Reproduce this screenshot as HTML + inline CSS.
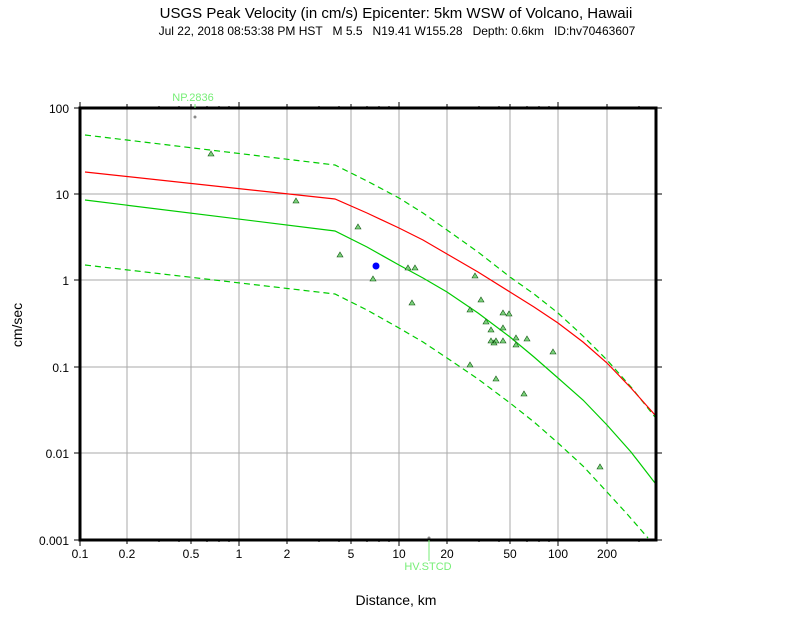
<!DOCTYPE html>
<html><head><style>body{margin:0;background:#fff}</style></head><body>
<svg width="792" height="612" xmlns="http://www.w3.org/2000/svg" font-family="Liberation Sans, sans-serif">
<rect width="792" height="612" fill="#fff"/>
<text x="396" y="18" font-size="15" text-anchor="middle">USGS Peak Velocity (in cm/s) Epicenter: 5km WSW of Volcano, Hawaii</text>
<text x="397" y="35" font-size="12" text-anchor="middle" xml:space="preserve">Jul 22, 2018 08:53:38 PM HST   M 5.5   N19.41 W155.28   Depth: 0.6km   ID:hv70463607</text>
<g stroke="#aaa" stroke-width="1">
<line x1="127" y1="108" x2="127" y2="540"/><line x1="191" y1="108" x2="191" y2="540"/><line x1="239" y1="108" x2="239" y2="540"/>
<line x1="287" y1="108" x2="287" y2="540"/><line x1="351" y1="108" x2="351" y2="540"/><line x1="399" y1="108" x2="399" y2="540"/>
<line x1="447" y1="108" x2="447" y2="540"/><line x1="510" y1="108" x2="510" y2="540"/><line x1="558" y1="108" x2="558" y2="540"/>
<line x1="607" y1="108" x2="607" y2="540"/>
<line x1="80" y1="194" x2="656" y2="194"/><line x1="80" y1="280" x2="656" y2="280"/><line x1="80" y1="367" x2="656" y2="367"/><line x1="80" y1="453" x2="656" y2="453"/>
</g>
<g fill="none" stroke-width="1.2">
<polyline stroke="#00cc00" stroke-dasharray="6,4" points="85,135 335,165 367,181 399,198 423,213 447,230 478,252 510,277 534,294 558,313 583,336 607,360 631,387 655,417"/>
<polyline stroke="#ff0000" points="85,172 335,199 367,213 399,228 423,240 447,254 478,272 510,292 534,307 558,323 583,342 607,363 631,388 655,415"/>
<polyline stroke="#00cc00" points="85,200 335,231 367,247 399,265 423,278 447,292 478,313 510,337 534,357 558,378 583,400 607,425 631,452 655,483"/>
<polyline stroke="#00cc00" stroke-dasharray="6,4" points="85,265 335,294 367,310 399,328 423,342 447,358 478,379 510,403 534,422 558,443 583,466 607,492 628,515 648,538"/>
</g>
<circle cx="376" cy="266" r="3.5" fill="#0000ff"/>
<circle cx="195" cy="117" r="1.5" fill="#888"/><circle cx="429" cy="538" r="1.5" fill="#888"/>
<g fill="#7bd17b" stroke="#115511" stroke-width="0.6">
<path d="M211 151l3 5h-6z M296 198l3 5h-6z M358 224l3 5h-6z M340 252l3 5h-6z M373 276l3 5h-6z M408 265l3 5h-6z M415 265l3 5h-6z M412 300l3 5h-6z M475 273l3 5h-6z M481 297l3 5h-6z M470 307l3 5h-6z M486 319l3 5h-6z M491 327l3 5h-6z M503 310l3 5h-6z M509 311l3 5h-6z M503 325l3 5h-6z M496 338l3 5h-6z M491 338l3 5h-6z M494 340l3 5h-6z M503 338l3 5h-6z M516 335l3 5h-6z M516 342l3 5h-6z M527 336l3 5h-6z M470 362l3 5h-6z M496 376l3 5h-6z M524 391l3 5h-6z M553 349l3 5h-6z M600 464l3 5h-6z"/>
</g>
<rect x="80" y="108" width="576" height="432" fill="none" stroke="#000" stroke-width="3"/>
<g stroke="#000" stroke-width="1">
<path d="M80 540v6M127 540v4M159 540v2M179 540v2M191 540v4M207 540v2M219 540v2M229 540v2M239 540v6M287 540v4M319 540v2M339 540v2M351 540v4M367 540v2M379 540v2M389 540v2M399 540v6M447 540v4M479 540v2M499 540v2M510 540v4M527 540v2M539 540v2M549 540v2M558 540v6M607 540v4M639 540v2"/>
<path d="M80 108v-6M127 108v-4M159 108v-2M179 108v-2M191 108v-4M207 108v-2M219 108v-2M229 108v-2M239 108v-6M287 108v-4M319 108v-2M339 108v-2M351 108v-4M367 108v-2M379 108v-2M389 108v-2M399 108v-6M447 108v-4M479 108v-2M499 108v-2M510 108v-4M527 108v-2M539 108v-2M549 108v-2M558 108v-6M607 108v-4M639 108v-2"/>
<path d="M80 108h-6M80 194h-6M80 280h-6M80 367h-6M80 453h-6M80 540h-6M656 108h6M656 194h6M656 280h6M656 367h6M656 453h6M656 540h6"/>
</g>
<g font-size="12" text-anchor="middle">
<text x="80" y="558">0.1</text><text x="127" y="558">0.2</text><text x="191" y="558">0.5</text><text x="239" y="558">1</text><text x="287" y="558">2</text><text x="351" y="558">5</text><text x="399" y="558">10</text><text x="447" y="558">20</text><text x="510" y="558">50</text><text x="558" y="558">100</text><text x="607" y="558">200</text>
</g>
<g font-size="12" text-anchor="end">
<text x="69" y="113">100</text><text x="69" y="199">10</text><text x="69" y="285">1</text><text x="69" y="372">0.1</text><text x="69" y="458">0.01</text><text x="69" y="545">0.001</text>
</g>
<text x="193" y="101" font-size="11" fill="#77ee77" text-anchor="middle">NP.2836</text>
<line x1="195" y1="104" x2="195" y2="108" stroke="#77ee77"/>
<text x="428" y="570" font-size="11" fill="#77ee77" text-anchor="middle">HV.STCD</text>
<line x1="429" y1="540" x2="429" y2="561" stroke="#77ee77"/>
<text x="396" y="605" font-size="14" text-anchor="middle">Distance, km</text>
<text transform="translate(22,325) rotate(-90)" font-size="14" text-anchor="middle">cm/sec</text>
</svg>
</body></html>
